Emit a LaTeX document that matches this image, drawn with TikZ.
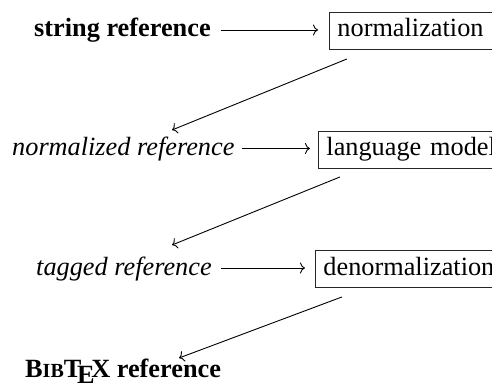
\documentclass[tikz,border=0pt]{standalone}
\usepackage{fontspec}
\setmainfont{Liberation Serif}
\usetikzlibrary{arrows.meta,calc}
\newcommand{\mybibtex}{B{\fontsize{20}{20}\selectfont IB}T\kern-.1667em\lower.5ex\hbox{E}\kern-.125emX}
\begin{document}
\begin{tikzpicture}[x=1pt,y=1pt,
  lbl/.style={inner sep=0pt,anchor=base west,font=\fontsize{26.3}{30}\selectfont},
  stagebox/.style={draw=black!85,line width=0.9pt,anchor=base west,inner xsep=8pt,inner ysep=7pt,
    text width=180pt,align=left,
    text height=18pt,text depth=5.5pt,font=\fontsize{26.3}{30}\selectfont},
  arr/.style={line width=0.9pt,-{Computer Modern Rightarrow[length=5pt,width=11pt]}}]
\useasboundingbox (0,0) rectangle (492,391);
% row 1
\node[lbl] (sr) at (34,354) {\bfseries string reference};
\node[stagebox] (b1) at (329,354) {normalization};
% row 2
\node[lbl] (nr) at (12,235) {\itshape normalized reference};
\node[stagebox] (b2) at (318,235) {language model};
% row 3
\node[lbl] (tr) at (36,116) {\itshape tagged reference};
\node[stagebox] (b3) at (315,116) {denormalization};
% row 4
\node[lbl] (br) at (25,14) {\bfseries \mybibtex{} reference};
% horizontal arrows
\draw[arr] ($(sr.base east)+(10,7)$) -- ($(b1.base west)+(-11,7)$);
\draw[arr] ($(nr.base east)+(7,7.5)$) -- ($(b2.base west)+(-8,7.5)$);
\draw[arr] ($(tr.base east)+(9,7)$) -- ($(b3.base west)+(-10,7)$);
% diagonal arrows
\draw[arr] ($(b1.south west)+(18,-9)$) -- ($(nr.base west)+(160,26)$);
\draw[arr] ($(b2.south west)+(22,-8)$) -- ($(tr.base west)+(136,30)$);
\draw[arr] ($(b3.south west)+(27,-9)$) -- ($(br.base west)+(154,19)$);
\end{tikzpicture}
\end{document}
